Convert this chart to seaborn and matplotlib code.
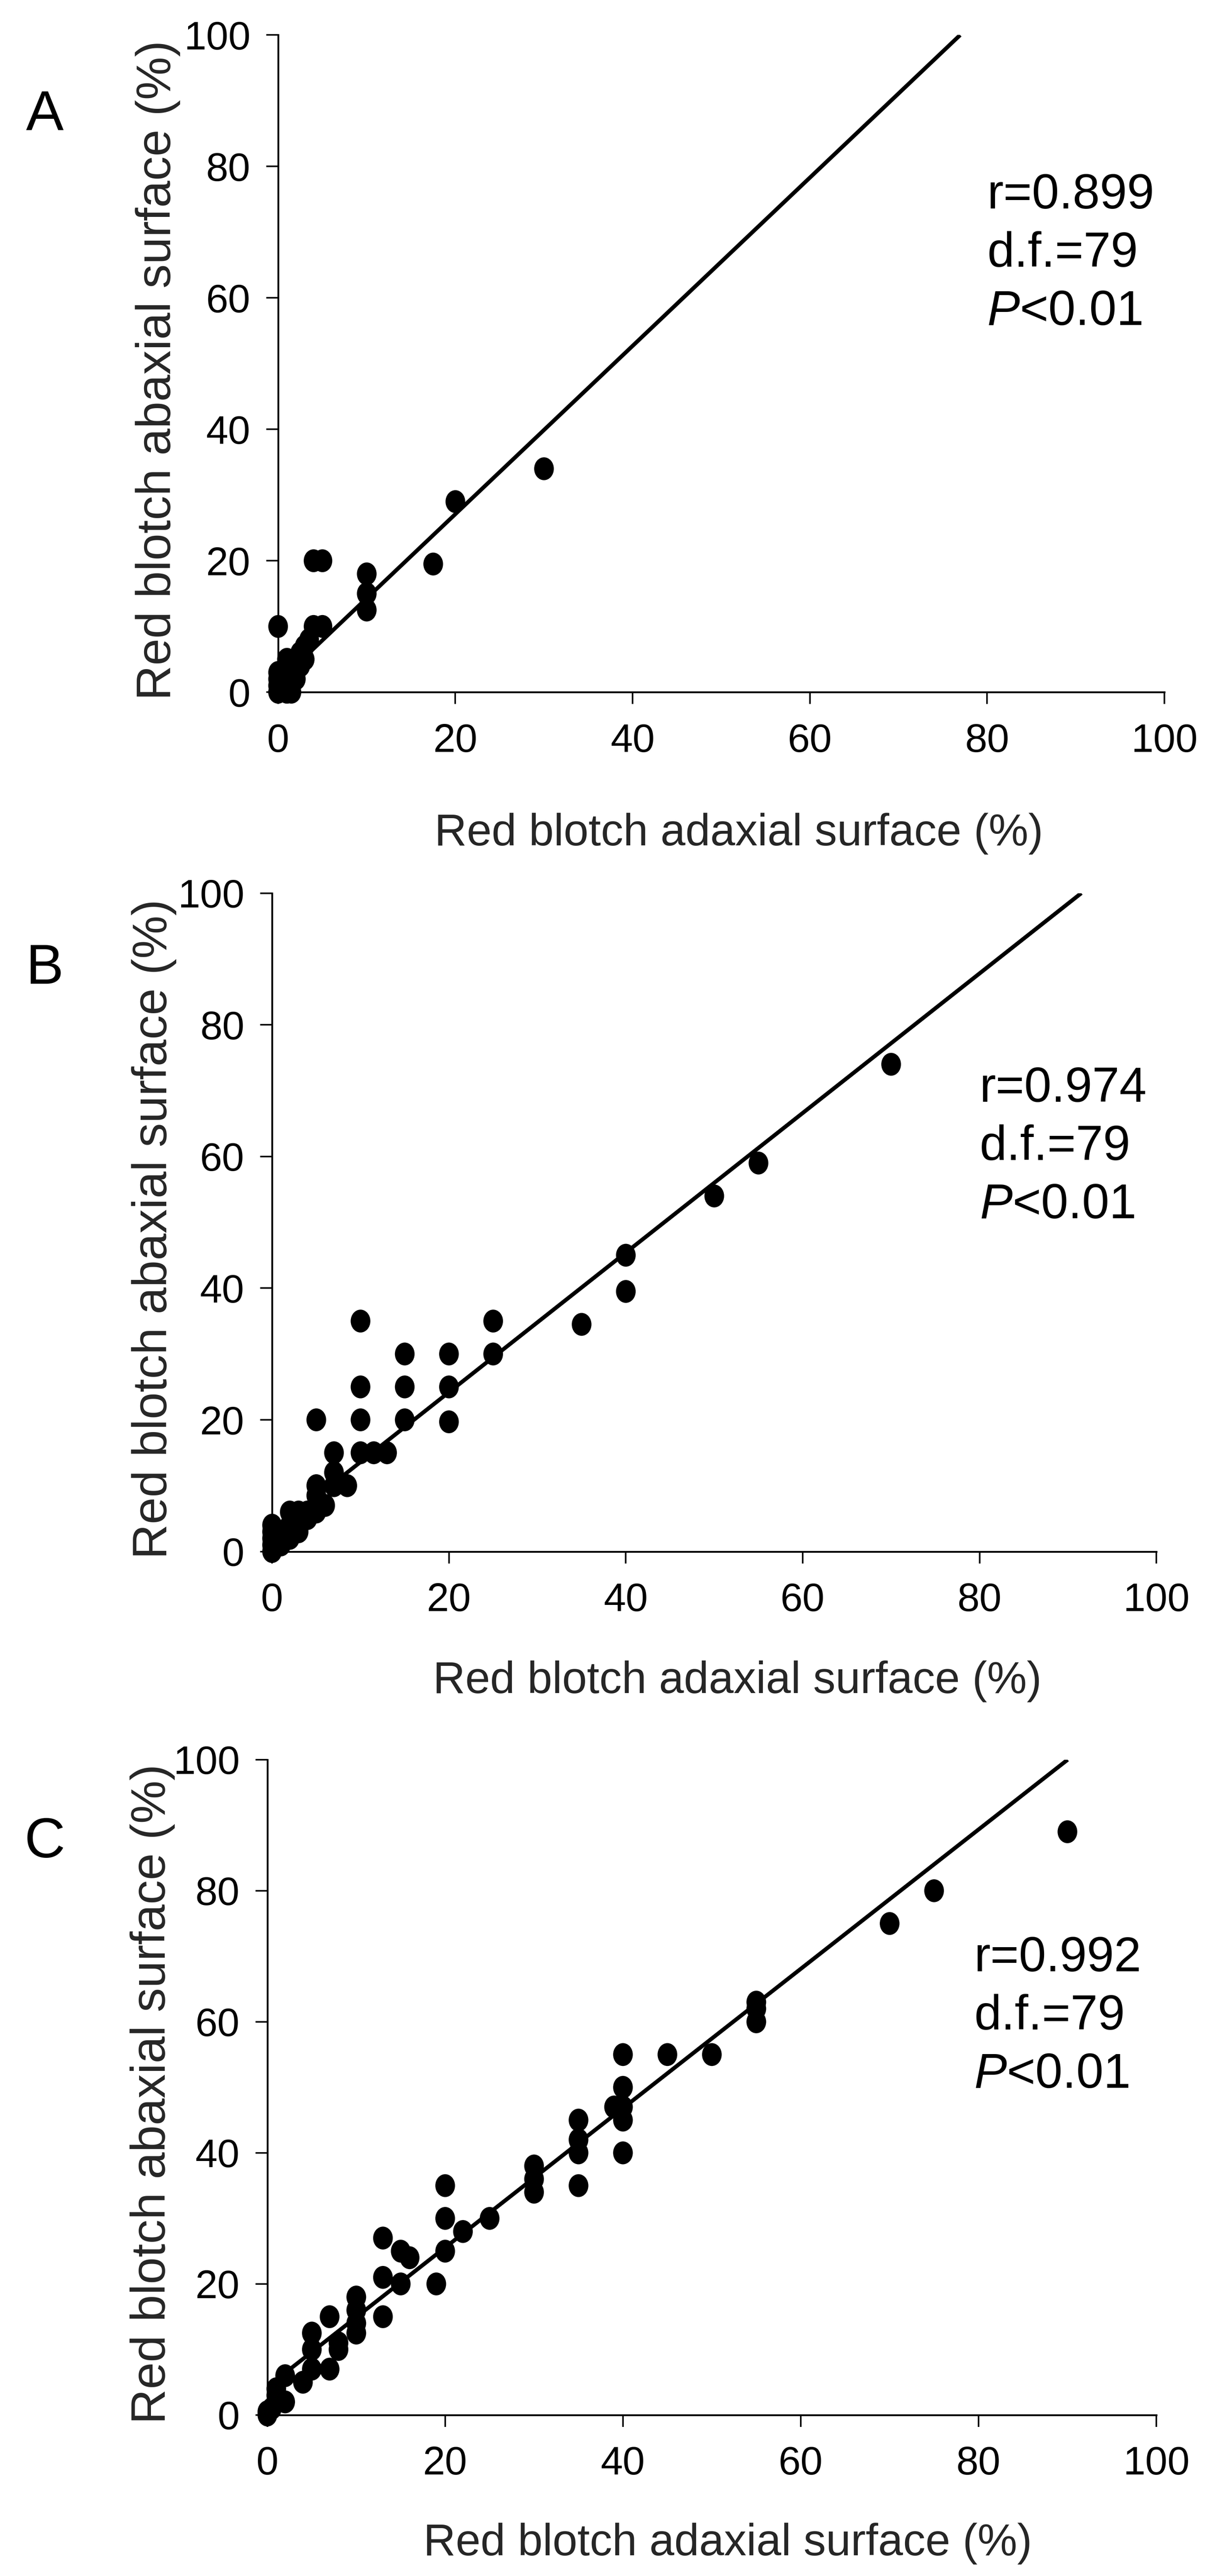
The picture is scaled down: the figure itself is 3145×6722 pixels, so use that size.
import matplotlib
matplotlib.use("Agg")
import matplotlib.pyplot as plt
from matplotlib.path import Path
from matplotlib.transforms import Affine2D
import pandas as pd
import seaborn as sns

# ---------------- data ----------------
panel_letters = ["A", "B", "C"]
r_values = ["0.899", "0.974", "0.992"]
df_values = ["79", "79", "79"]
p_text = "<0.01"
fit_intercepts = [1.5, 3.0, 4.3]
fit_slopes = [1.28, 1.06, 1.063]
tick_values = [0, 20, 40, 60, 80, 100]
x_label = "Red blotch adaxial surface (%)"
y_label = "Red blotch abaxial surface (%)"

a_adaxial = [0, 0, 0, 0, 0, 1, 1, 1, 1, 1, 1, 1, 1.5, 2, 2, 2, 2, 2.5, 2.5, 3, 3, 3.5,
             4, 5, 0, 4, 5, 10, 10, 10, 17.5, 20, 30]
a_abaxial = [0, 0, 1, 2, 3, 0, 0, 1, 2, 3, 4, 5, 0, 2, 3, 4, 5, 4, 6, 5, 7, 8,
             10, 10, 10, 20, 20, 12.5, 15, 18, 19.5, 29, 34]

b_adaxial = [0, 0, 0, 0, 0, 1, 1, 1, 2, 2, 2, 3, 4, 3, 3, 4, 5, 6, 5, 5, 7, 8.5, 7, 7,
             10, 11.5, 13, 5, 10, 15, 20, 10, 15, 20, 10, 15, 20, 25, 25, 35, 40, 40,
             50, 55, 70]
b_abaxial = [0, 1, 2, 3, 4, 1, 2, 3, 2, 4, 6, 6, 6, 3, 4, 5, 6, 7, 8.5, 10, 10, 10, 12, 15,
             15, 15, 15, 20, 20, 20, 19.7, 25, 25, 25, 35, 30, 30, 30, 35, 34.5, 39.5, 45,
             54, 59, 74]

c_adaxial = [0, 0, 0.5, 1, 1, 1, 2, 2, 4, 5, 7, 5, 5, 8, 8, 7, 10, 10, 10, 10,
             13, 13, 13, 15, 15, 16, 19, 20, 20, 20, 22, 25, 30, 30, 30,
             35, 35, 35, 35, 39, 40, 40, 40, 40, 40, 45, 50, 55, 55, 55, 70, 75, 90]
c_abaxial = [0, 0.5, 1, 2, 3, 4, 2, 6, 5, 7, 7, 10, 12.5, 11, 10, 15, 12.5, 14, 16, 18,
             15, 21, 27, 20, 25, 24, 20, 25, 30, 35, 28, 30, 34, 36, 38,
             35, 40, 42, 45, 47, 40, 45, 47, 50, 55, 55, 55, 60, 62, 63, 75, 80, 89]

panels = [(a_adaxial, a_abaxial), (b_adaxial, b_abaxial), (c_adaxial, c_abaxial)]

# ---------------- layout / style ----------------
sns.set_style("ticks")
plt.rcParams["font.family"] = ["Liberation Sans", "DejaVu Sans"]
plt.rcParams["mathtext.fontset"] = "custom"
plt.rcParams["mathtext.rm"] = "Liberation Sans"
plt.rcParams["mathtext.it"] = "Liberation Sans:italic"

rects = [(0.2308, 0.7313, 0.7355, 0.2551),
         (0.2258, 0.3977, 0.7339, 0.2556),
         (0.2219, 0.0625, 0.7377, 0.2544)]
ylabel_x = [-0.110, -0.108, -0.104]
xlabel_pos = [(0.52, -0.233), (0.526, -0.215), (0.518, -0.214)]
annot_pos = [(80, 73.6), (80, 68.3), (79.5, 67.7)]
letter_pos = [(0.0372, 0.9493), (0.0372, 0.6181), (0.0372, 0.2789)]

# slightly elliptical dot, like the scanned markers
dot = Path.unit_circle().transformed(Affine2D().scale(0.86, 1.0))

fig = plt.figure(figsize=(31.45, 67.22), dpi=100)
fig.patch.set_facecolor("white")

for i, (xs, ys) in enumerate(panels):
    ax = fig.add_axes(rects[i])
    data = pd.DataFrame({"adaxial": xs, "abaxial": ys})
    ax.axline((0, fit_intercepts[i]), slope=fit_slopes[i], color="black",
              linewidth=7.5, solid_capstyle="butt", zorder=2)
    sns.scatterplot(data=data, x="adaxial", y="abaxial", ax=ax, marker=dot,
                    s=1850, color="black", edgecolor="none", linewidth=0,
                    clip_on=False, zorder=3, legend=False)
    ax.set_xlim(0, 100)
    ax.set_ylim(0, 100)
    ax.set_xticks(tick_values)
    ax.set_yticks(tick_values)
    ax.set_xticklabels([str(t) for t in tick_values])
    ax.set_yticklabels([str(t) for t in tick_values])
    sns.despine(ax=ax)
    for s in ("left", "bottom"):
        ax.spines[s].set_linewidth(3.4)
        ax.spines[s].set_color("black")
    ax.tick_params(axis="both", direction="out", length=22, width=3,
                   labelsize=75, colors="black")
    ax.tick_params(axis="x", pad=36)
    ax.tick_params(axis="y", pad=30)
    ax.set_facecolor("white")

    ax.set_xlabel(x_label, fontsize=84)
    ax.xaxis.label.set_va("baseline")
    ax.xaxis.set_label_coords(*xlabel_pos[i])
    ax.set_ylabel(y_label, fontsize=91)
    ax.yaxis.set_label_coords(ylabel_x[i], 0.49)

    ax0, ay0 = annot_pos[i]
    lines = ["r=" + r_values[i], "d.f.=" + df_values[i], r"$\mathit{P}$" + p_text]
    for k, line in enumerate(lines):
        ax.annotate(line, xy=(ax0, ay0), xycoords="data",
                    xytext=(0, -109.5 * k), textcoords="offset points",
                    fontsize=92, ha="left", va="baseline", color="black")

    fig.text(letter_pos[i][0], letter_pos[i][1], panel_letters[i], fontsize=106,
             ha="center", va="baseline", color="black")

fig.savefig("out.png", dpi=100, facecolor="white")
